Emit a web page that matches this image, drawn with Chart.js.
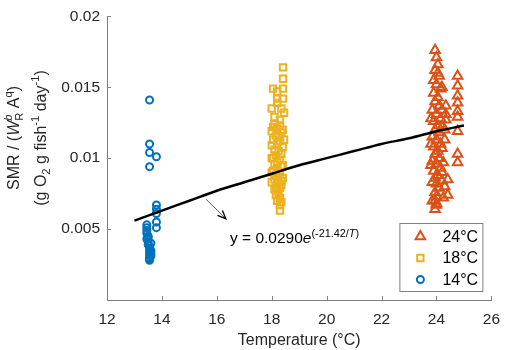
<!DOCTYPE html>
<html>
<head>
<meta charset="utf-8">
<script src="https://cdn.jsdelivr.net/npm/chart.js@4.4.1/dist/chart.umd.min.js"></script>
<style>
  html, body { margin: 0; background: #fff; }
</style>
</head>
<body>
<canvas id="smrChart" width="510" height="350"></canvas>
<script>
const FONT = "'Liberation Sans', Arial, sans-serif";

// 14°C group (blue circles)
const t14 = [13.55, 13.55, 13.55, 13.8, 13.55,
             13.8, 13.8, 13.8, 13.8, 13.8,
             13.45, 13.45, 13.45, 13.45, 13.5, 13.45, 13.5, 13.5, 13.55, 13.55,
             13.6, 13.55, 13.6, 13.55, 13.6, 13.55, 13.55, 13.55, 13.5, 13.6];
const smr14 = [0.0141, 0.0110, 0.0104, 0.0101, 0.0094,
               0.0067, 0.0064, 0.0061, 0.0055, 0.0051,
               0.0053, 0.0051, 0.0049, 0.0047, 0.0045, 0.0043, 0.0041, 0.0039, 0.0038, 0.0036,
               0.0035, 0.0034, 0.0033, 0.0032, 0.0031, 0.0030, 0.0029, 0.0028, 0.0044, 0.0040];

// 18°C group (yellow squares)
const t18 = [18.41, 18.41, 18.05, 18.41, 18.2, 18.2, 18.41, 18.0, 18.35, 18.2, 18.45, 18.1, 18.3,
             18.1, 18.3, 18.2, 18.0, 18.35, 18.15, 18.25, 18.05, 18.3, 18.2, 18.0, 18.4, 18.1,
             18.25, 18.35, 18.15, 18.05, 18.3, 18.2, 18.1, 18.35, 18.2, 18.05, 18.3, 18.15, 18.25,
             18.1, 18.35, 18.2, 18.15, 18.3, 18.2, 18.25, 18.15, 18.3, 18.2, 18.35, 18.3, 18.3,
             18.0, 18.4, 18.0, 18.4, 18.0, 18.45, 18.05, 18.4, 18.1, 18.35];
const smr18 = [0.0164, 0.0156, 0.0149, 0.0149, 0.0147, 0.0142, 0.0142, 0.0135, 0.0135, 0.0139, 0.0132, 0.0129, 0.0127,
               0.0124, 0.0123, 0.0121, 0.0119, 0.0118, 0.0116, 0.0115, 0.0113, 0.0112, 0.0110, 0.0109, 0.0108, 0.0106,
               0.0105, 0.0103, 0.0102, 0.0100, 0.0099, 0.0097, 0.0096, 0.0094, 0.0093, 0.0091, 0.0090, 0.0088, 0.0087,
               0.0085, 0.0084, 0.0082, 0.0080, 0.0079, 0.0077, 0.0075, 0.0074, 0.0072, 0.0070, 0.0069, 0.0067, 0.0063,
               0.0100, 0.0095, 0.0090, 0.0086, 0.0083, 0.0113, 0.0122, 0.0120, 0.0078, 0.0081];

// 24°C group (orange triangles)
const t24 = [23.95, 24.0, 24.05, 23.95, 24.1, 23.9, 24.0, 24.15, 23.9, 24.05, 23.95, 24.1, 23.85, 24.0,
             24.15, 23.9, 24.05, 23.95, 24.1, 23.85, 24.0, 24.15, 23.9, 24.05, 23.95, 24.1, 23.85, 24.0,
             24.15, 23.9, 24.05, 23.95, 24.2, 24.0, 24.1, 23.95, 24.0, 23.95, 24.0, 23.95, 24.25,
             24.34, 24.34, 24.34, 24.41, 24.41,
             24.77, 24.77, 24.77, 24.77, 24.77, 24.77, 24.77, 24.77, 24.77,
             24.2, 23.8, 24.2, 23.8, 24.2, 23.8, 24.25, 23.85, 24.2, 24.3, 24.3, 24.3, 23.85, 24.05, 24.2, 24.0];
const smr24 = [0.0176, 0.0171, 0.0166, 0.0162, 0.0158, 0.0155, 0.0152, 0.0149, 0.0146, 0.0143, 0.0140, 0.0137, 0.0134, 0.0131,
               0.0128, 0.0126, 0.0123, 0.0120, 0.0118, 0.0115, 0.0113, 0.0110, 0.0108, 0.0105, 0.0103, 0.0100, 0.0098, 0.0096,
               0.0093, 0.0091, 0.0088, 0.0086, 0.0084, 0.0082, 0.0079, 0.0076, 0.0073, 0.0070, 0.0067, 0.0064, 0.0072,
               0.0137, 0.0131, 0.0127, 0.0085, 0.0074,
               0.0158, 0.0151, 0.0144, 0.0139, 0.0133, 0.0129, 0.0119, 0.0103, 0.0097,
               0.0150, 0.0128, 0.0122, 0.0110, 0.0107, 0.0095, 0.0097, 0.0083, 0.0090, 0.0080, 0.0120, 0.0113, 0.0070, 0.0160, 0.0134, 0.0068];

// fitted curve
const fitT = [13, 14, 15, 16, 17, 18, 19, 20, 21, 22, 23, 24, 25];
const fitSmr = [0.0056, 0.0063, 0.0070, 0.0077, 0.0083, 0.0089, 0.0095, 0.0100, 0.0105, 0.0110, 0.0114, 0.0119, 0.0123];

const xTicks = [12, 14, 16, 18, 20, 22, 24, 26];
const yTicks = [0, 0.005, 0.01, 0.015, 0.02];
const legendLabels = ["24°C", "18°C", "14°C"];

// annotation (data coordinates)
const arrowFrom = [15.61, 0.0071];
const arrowTo = [16.33, 0.00573];
const eqAt = [16.48, 0.0040];

const ORANGE = "#D95319", YELLOW = "#EDB120", BLUE = "#0072BD";
const AXIS = "#808080", TXT = "#262626";

const pts = (xs, ys) => xs.map((x, i) => ({ x: x, y: ys[i] }));

function richLayout(ctx, parts, size) {
    let x = 0, prevStart = 0, prevW = 0;
    const items = [];
    for (const p of parts) {
        const fs = p.s ? size * 0.7 : size;
        const font = (p.it ? "italic " : "") + fs + "px " + FONT;
        ctx.font = font;
        const w = ctx.measureText(p.t).width;
        let start = x;
        if (p.stack) { start = prevStart; x = prevStart + Math.max(prevW, w); }
        else x += w;
        const dy = p.s === "sup" ? -size * 0.42 : (p.s === "sub" ? size * 0.25 : 0);
        items.push({ t: p.t, font: font, x: start, dy: dy });
        prevStart = start; prevW = w;
    }
    return { items: items, width: x };
}

function drawRich(ctx, lay, x, y) {
    ctx.textAlign = "left";
    ctx.textBaseline = "alphabetic";
    for (const it of lay.items) {
        ctx.font = it.font;
        ctx.fillText(it.t, x + it.x, y + it.dy);
    }
}

const yTitle1 = [{ t: "SMR / (" }, { t: "W", it: true }, { t: "b", s: "sup", it: true }, { t: "R", s: "sub", stack: true },
                 { t: " A" }, { t: "q", s: "sup" }, { t: ")" }];
const yTitle2 = [{ t: "(g O" }, { t: "2", s: "sub" }, { t: " g fish" }, { t: "-1", s: "sup" }, { t: " day" }, { t: "-1", s: "sup" }, { t: ")" }];
const eqParts = [{ t: "y = 0.0290" }, { t: "e", it: true }, { t: "(-21.42/", s: "sup" }, { t: "T", s: "sup", it: true }, { t: ")", s: "sup" }];

const extras = {
    id: "extras",
    afterDraw(chart) {
        const ctx = chart.ctx;
        const xs = chart.scales.x, ys = chart.scales.y;
        const area = chart.chartArea;
        ctx.save();

        // inward ticks
        ctx.strokeStyle = AXIS;
        ctx.lineWidth = 1;
        ctx.beginPath();
        xTicks.forEach(v => {
            const px = Math.round(xs.getPixelForValue(v)) + 0.5;
            ctx.moveTo(px, area.bottom); ctx.lineTo(px, area.bottom - 4);
        });
        yTicks.forEach(v => {
            const py = Math.round(ys.getPixelForValue(v)) + 0.5;
            ctx.moveTo(area.left, py); ctx.lineTo(area.left + 4, py);
        });
        ctx.stroke();

        // y title, two rotated lines
        ctx.fillStyle = TXT;
        const cy = 138;
        [[yTitle1, 19], [yTitle2, 46]].forEach(([parts, bx]) => {
            const lay = richLayout(ctx, parts, 16);
            ctx.save();
            ctx.translate(bx, cy);
            ctx.rotate(-Math.PI / 2);
            drawRich(ctx, lay, -lay.width / 2, 0);
            ctx.restore();
        });

        // arrow
        const ax0 = xs.getPixelForValue(arrowFrom[0]), ay0 = ys.getPixelForValue(arrowFrom[1]);
        const ax1 = xs.getPixelForValue(arrowTo[0]), ay1 = ys.getPixelForValue(arrowTo[1]);
        ctx.strokeStyle = "#333";
        ctx.lineWidth = 0.8;
        ctx.beginPath(); ctx.moveTo(ax0, ay0); ctx.lineTo(ax1, ay1); ctx.stroke();
        const ang = Math.atan2(ay1 - ay0, ax1 - ax0);
        ctx.strokeStyle = "#000";
        ctx.lineWidth = 1.3;
        ctx.beginPath();
        ctx.moveTo(ax1 - 9 * Math.cos(ang - 0.4), ay1 - 9 * Math.sin(ang - 0.4));
        ctx.lineTo(ax1, ay1);
        ctx.lineTo(ax1 - 9 * Math.cos(ang + 0.4), ay1 - 9 * Math.sin(ang + 0.4));
        ctx.stroke();

        // equation
        ctx.fillStyle = "#000";
        const eq = richLayout(ctx, eqParts, 15.5);
        drawRich(ctx, eq, xs.getPixelForValue(eqAt[0]), ys.getPixelForValue(eqAt[1]));

        // legend box
        const bx = area.right - 92, by = area.bottom - 77, bw = 83, bh = 68;
        ctx.fillStyle = "#fff";
        ctx.fillRect(bx, by, bw, bh);
        ctx.strokeStyle = AXIS;
        ctx.lineWidth = 1;
        ctx.strokeRect(bx + 0.5, by + 0.5, bw, bh);
        const styles = [
            { pointStyle: "triangle", radius: 5.5, color: ORANGE },
            { pointStyle: "rect", radius: 4.5, color: YELLOW },
            { pointStyle: "circle", radius: 3.5, color: BLUE }
        ];
        legendLabels.forEach((lab, i) => {
            const ly = by + 13.5 + i * 21.5;
            const st = styles[i];
            ctx.strokeStyle = st.color;
            ctx.fillStyle = "rgba(0,0,0,0)";
            ctx.lineWidth = 2;
            Chart.helpers.drawPoint(ctx, { pointStyle: st.pointStyle, radius: st.radius, borderWidth: 2, rotation: 0 }, bx + 21, ly);
            ctx.fillStyle = "#000";
            ctx.font = "16px " + FONT;
            ctx.textAlign = "left";
            ctx.textBaseline = "middle";
            ctx.fillText(lab, bx + 43, ly + 1);
        });

        ctx.restore();
    }
};

const scatterDs = (label, data, color, style, r) => ({
    type: "scatter", label: label, data: data, order: 1,
    pointStyle: style, pointRadius: r, borderWidth: 2,
    borderColor: color, pointBorderColor: color, backgroundColor: "rgba(0,0,0,0)"
});

new Chart(document.getElementById("smrChart"), {
    type: "scatter",
    data: {
        datasets: [
            scatterDs("14°C", pts(t14, smr14), BLUE, "circle", 3.5),
            scatterDs("18°C", pts(t18, smr18), YELLOW, "rect", 4.5),
            scatterDs("24°C", pts(t24, smr24), ORANGE, "triangle", 5.5),
            {
                type: "line", label: "fit", data: pts(fitT, fitSmr), order: 0,
                borderColor: "#000", borderWidth: 2.5, pointRadius: 0, fill: false,
                tension: 0.4, cubicInterpolationMode: "monotone"
            }
        ]
    },
    options: {
        responsive: false, animation: false, events: [],
        layout: { padding: { left: 0, right: 11, top: 9, bottom: 0 } },
        plugins: { legend: { display: false }, tooltip: { enabled: false } },
        scales: {
            x: {
                type: "linear", min: 12, max: 26,
                afterBuildTicks: s => { s.ticks = xTicks.map(v => ({ value: v })); },
                afterFit: s => { s.height = 50; },
                grid: { display: false, drawTicks: false },
                border: { display: true, color: AXIS, width: 1 },
                ticks: { color: TXT, font: { family: FONT, size: 15.5 }, padding: 10, maxRotation: 0 },
                title: { display: true, text: "Temperature (°C)", color: TXT, font: { family: FONT, size: 16 }, padding: { top: 0, bottom: 0 } }
            },
            y: {
                type: "linear", min: 0, max: 0.02,
                afterBuildTicks: s => { s.ticks = yTicks.map(v => ({ value: v })); },
                afterFit: s => { s.width = 107; },
                grid: { display: false, drawTicks: false },
                border: { display: true, color: AXIS, width: 1 },
                ticks: {
                    color: TXT, font: { family: FONT, size: 15.5 }, padding: 7,
                    callback: v => (v === 0 ? "" : String(+Number(v).toFixed(3)))
                }
            }
        }
    },
    plugins: [extras]
});
</script>
</body>
</html>
